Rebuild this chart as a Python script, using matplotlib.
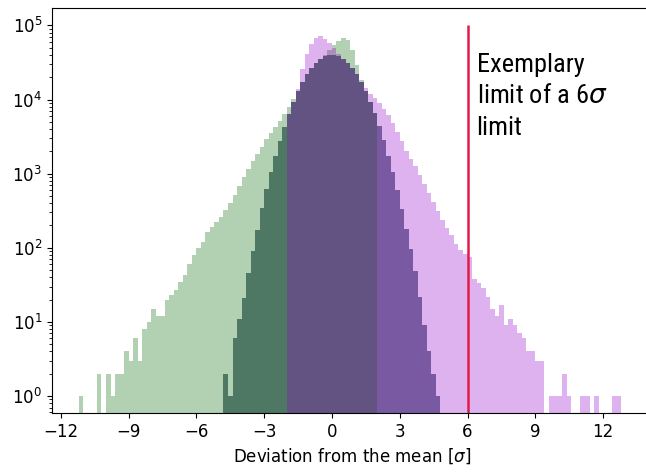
import numpy as np
import matplotlib
matplotlib.use('Agg')
import matplotlib.pyplot as plt
from matplotlib import font_manager

#~~~~~~~~ Data (counts per bin) ~~~~~~~~~~~~~~~~~~~~~~~~~~~~~~~~~
bin_w = 0.2

# reference gaussian, bins from -4.8 to 4.8
gauss_start = -4.8
gauss_counts = [2, 1, 6, 11, 21, 45, 90, 175, 340, 620,
                1050, 1750, 2800, 4300, 6400, 9300, 12900, 17200, 21900, 26700,
                31200, 35200, 38200, 39800, 39800, 38100, 35300, 31300, 26600, 21900,
                17300, 13000, 9400, 6500, 4400, 2850, 1750, 1050, 600, 330,
                180, 95, 48, 22, 9, 4, 2, 1]

# green distribution, bins from -11.2 to 2.0
green_start = -11.2
green_counts = [1, 0, 0, 0, 2, 0, 2, 1, 2, 2,
                4, 3, 6, 3, 8, 10, 15, 12, 12, 20,
                23, 27, 35, 43, 60, 80, 100, 120, 165, 190,
                225, 260, 320, 400, 520, 680, 900, 1150, 1500, 1850,
                2300, 2900, 3500, 4300, 5200, 6300, 7900, 10200, 12900, 17200,
                21900, 26700, 31200, 35200, 39500, 47000, 55000, 62000, 68000, 63000,
                46000, 29000, 18500, 13000, 9400, 6500]

# purple distribution, bins from -2.0 to 12.8
purple_start = -2.0
purple_counts = [6400, 9300, 14000, 26000, 41000, 56000, 68000, 72000, 66000, 57000,
                 49000, 41000, 35300, 31300, 26600, 21900, 17300, 14500, 12000, 10500,
                 9000, 7500, 6100, 4800, 3700, 2800, 2050, 1600, 1250, 960,
                 730, 540, 410, 310, 240, 185, 150, 112, 92, 83,
                 75, 38, 33, 29, 22, 15, 12, 17, 9, 11,
                 9, 7, 6, 4, 4, 3, 3, 0, 1, 1,
                 1, 2, 1, 0, 0, 1, 1, 0, 1, 0,
                 0, 0, 1, 1]

limit = 6
#~~~~~~~~~~~~~~~~~~~~~~~~~~~~~~~~~~~~~~~~~~~~~~~~~~~~~~~~~~~~~~~

def make_edges(start, n):
    return start + bin_w*np.arange(n + 1)

# narrow font for the annotation, if there is one
names = set(f.name for f in font_manager.fontManager.ttflist)
narrow = [n for n in ['Liberation Sans Narrow', 'Roboto Condensed', 'DejaVu Sans Condensed'] if n in names]

fig = plt.figure(figsize=(6.46, 4.75), dpi=100)
ax = fig.add_axes([0.0805, 0.1305, 0.93, 0.852])

for start, counts, col, a in [(gauss_start, gauss_counts, 'slategray', 1.0),
                              (green_start, green_counts, '#006600', 0.3),
                              (purple_start, purple_counts, '#9100ca', 0.3)]:
    e = make_edges(start, len(counts))
    ax.hist(e[:-1] + bin_w/2, bins=e, weights=counts, histtype='stepfilled',
            color=col, alpha=a, lw=0, log=True)

ax.vlines(limit, 0.3, 1e5, color='#e5194b', lw=1.8)
txt = 'Exemplary\nlimit of a 6$\\sigma$\nlimit'
if narrow:
    ax.text(6.4, 10**4.63, txt, ha='left', va='top', fontsize=19, linespacing=1.4,
            family=[narrow[0], 'DejaVu Sans'])
else:
    ax.text(6.4, 10**4.63, txt, ha='left', va='top', fontsize=19, linespacing=1.4,
            family='DejaVu Sans', fontstretch='condensed')

ax.set_xlim(-12.39, 14.2)
ax.set_ylim(0.59, 1.7e5)
ax.set_xticks(np.arange(-12, 13, 3))
ax.tick_params(labelsize=12)
ax.set_xlabel('Deviation from the mean [$\\sigma$]', fontsize=12)

fig.savefig('out.png', dpi=100)
